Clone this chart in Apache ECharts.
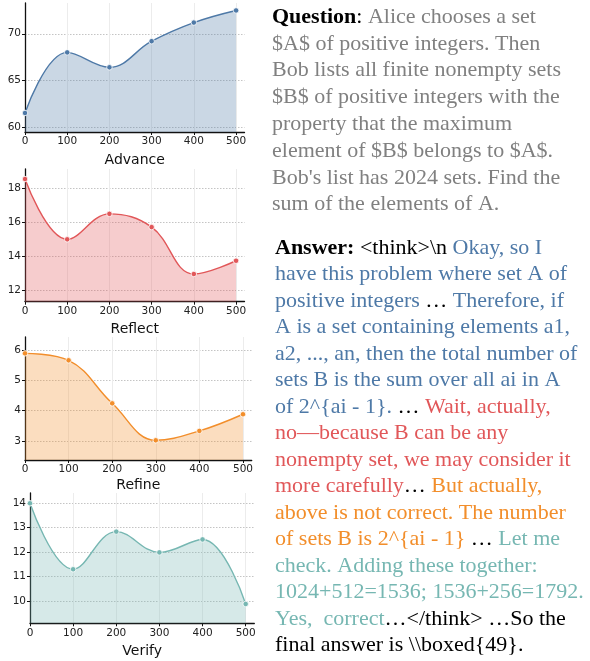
<!DOCTYPE html>
<html><head><meta charset="utf-8">
<script src="https://cdn.jsdelivr.net/npm/echarts@6/dist/echarts.min.js"></script>
<style>html,body{margin:0;padding:0;background:#fff}#c{width:590px;height:661px}</style>
</head><body><div id="c"></div>
<script>
const steps = [0, 100, 200, 300, 400, 500];
const xTicks = [0, 100, 200, 300, 400, 500];
const advance = [61.5, 68.0, 66.4, 69.2, 71.2, 72.5];
const reflect = [18.55, 15.0, 16.5, 15.72, 12.96, 13.74];
const refine = [5.89, 5.66, 4.24, 3.02, 3.33, 3.88];
const verify = [14.0, 11.3, 12.84, 11.99, 12.52, 9.88];
const advanceTicks = [60, 65, 70];
const reflectTicks = [12, 14, 16, 18];
const refineTicks = [3, 4, 5, 6];
const verifyTicks = [10, 11, 12, 13, 14];
const panelNames = ['Advance', 'Reflect', 'Refine', 'Verify'];

const C = {blue:'#4e79a7', red:'#e15759', orange:'#f28e2b', teal:'#76b7b2', gray:'#808080', black:'#000'};

const questionLines = [
  [['qb','Question'],['k',': '],['g','Alice chooses a set']],
  [['g','$A$ of positive integers. Then']],
  [['g','Bob lists all finite nonempty sets']],
  [['g','$B$ of positive integers with the']],
  [['g','property that the maximum']],
  [['g','element of $B$ belongs to $A$.']],
  [['g',"Bob's list has 2024 sets. Find the"]],
  [['g','sum of the elements of A.']]
];
const answerLines = [
  [['qb','Answer:'],['k',' <think>\\n '],['b','Okay, so I']],
  [['b','have this problem where set A of']],
  [['b','positive integers '],['k','…'],['b',' Therefore, if']],
  [['b','A is a set containing elements a1,']],
  [['b','a2, ..., an, then the total number of']],
  [['b','sets B is the sum over all ai in A']],
  [['b','of 2^{ai - 1}.'],['k',' … '],['r','Wait, actually,']],
  [['r','no—because B can be any']],
  [['r','nonempty set, we may consider it']],
  [['r','more carefully'],['k','…'],['o',' But actually,']],
  [['o','above is not correct. The number']],
  [['o','of sets B is 2^{ai - 1}'],['k',' … '],['t','Let me']],
  [['t','check. Adding these together:']],
  [['t','1024+512=1536; 1536+256=1792.']],
  [['t','Yes,  correct'],['k','…</think> …So the']],
  [['k','final answer is \\\\boxed{49}.']]
];

const chart = echarts.init(document.getElementById('c'), null, {renderer:'canvas'});
const FONT = 'DejaVu Sans';
const SERIF = '"Liberation Serif", "Times New Roman", serif';
const colorOf = {qb:C.black, k:C.black, g:C.gray, b:C.blue, r:C.red, o:C.orange, t:C.teal};
const rich = {};
Object.keys(colorOf).forEach(k => {
  rich[k] = {fill: colorOf[k], fontFamily: SERIF, fontSize: 22, fontWeight: k === 'qb' ? 'bold' : 'normal'};
});

function lineElement(segs, x, y) {
  let def = C.black, txt = '';
  segs.forEach(([k, t]) => {
    if (/[{}]/.test(t)) { def = colorOf[k]; txt += t; }
    else txt += '{' + k + '|' + t + '}';
  });
  return {type:'text', x: x, y: y, style: {text: txt, rich: rich, fill: def,
    font: '22px ' + SERIF, verticalAlign: 'middle', align: 'left'}, z: 10};
}
const graphics = [];
questionLines.forEach((l, i) => graphics.push(lineElement(l, 272, 17 + i * 26.8)));
answerLines.forEach((l, i) => graphics.push(lineElement(l, 275, 248 + i * 26.5)));

const panels = [
  {data: advance, ticks: advanceTicks, color: C.blue, min: 59.46, max: 73.3, left: 25, top: 3, width: 219.5, height: 129, gap: 21},
  {data: reflect, ticks: reflectTicks, color: C.red, min: 11.33, max: 19.14, left: 25, top: 169, width: 219.5, height: 132.7, gap: 21},
  {data: refine, ticks: refineTicks, color: C.orange, min: 2.37, max: 6.43, left: 25, top: 337, width: 226.7, height: 123, gap: 18},
  {data: verify, ticks: verifyTicks, color: C.teal, min: 9.09, max: 14.42, left: 30, top: 493, width: 224.3, height: 130.3, gap: 21}
];
const fillColors = ['rgba(78,121,167,0.3)','rgba(225,87,89,0.3)','rgba(242,142,43,0.3)','rgba(118,183,178,0.3)'];

const grid = [], xAxis = [], yAxis = [], series = [];
panels.forEach((p, i) => {
  grid.push({left: p.left, top: p.top, width: p.width, height: p.height, containLabel: false});
  xAxis.push({type:'value', gridIndex: i, min: 0, max: 520,
    name: panelNames[i], nameLocation: 'middle', nameGap: p.gap,
    nameTextStyle: {fontFamily: FONT, fontSize: 14, color: '#111'},
    axisLine: {show: true, onZero: false, lineStyle: {color: '#111', width: 1.3}},
    axisTick: {show: true, length: 3, customValues: xTicks, lineStyle: {color: '#111'}},
    axisLabel: {customValues: xTicks, fontFamily: FONT, fontSize: 10.5, color: '#222', margin: 4},
    splitLine: {show: true, lineStyle: {color: '#ececec', width: 1}}});
  yAxis.push({type:'value', gridIndex: i, min: p.min, max: p.max,
    axisLine: {show: true, lineStyle: {color: '#111', width: 1.3}},
    axisTick: {show: true, length: 3, customValues: p.ticks, lineStyle: {color: '#111'}},
    axisLabel: {customValues: p.ticks, fontFamily: FONT, fontSize: 10.5, color: '#222', margin: 4},
    splitLine: {show: true, lineStyle: {color: '#c4c4c4', type: [1.5, 1.5], width: 1}}});
  series.push({type:'line', xAxisIndex: i, yAxisIndex: i, smooth: 0.4,
    data: steps.map((s, j) => [s, p.data[j]]),
    symbol: 'circle', symbolSize: 5.5,
    itemStyle: {color: p.color, borderColor: '#fff', borderWidth: 0.8},
    lineStyle: {color: p.color, width: 1.4},
    areaStyle: {color: fillColors[i], opacity: 1, origin: 'start'},
    animation: false});
});

chart.setOption({animation: false, grid, xAxis, yAxis, series, graphic: graphics});
</script></body></html>
